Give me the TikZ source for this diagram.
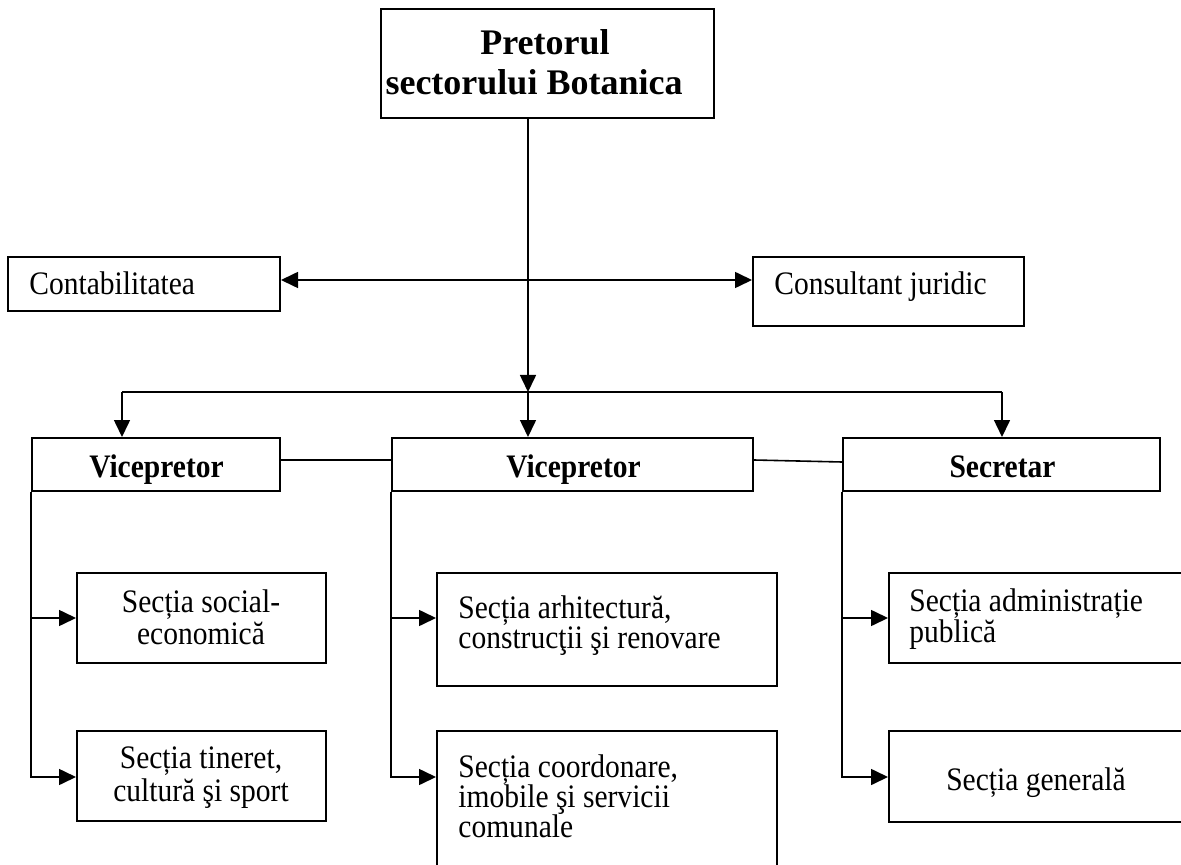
\documentclass[tikz,border=0pt]{standalone}
\usepackage{fontspec}
\setmainfont{Liberation Serif}
\newfontfamily\tallfont[FakeStretch=0.9]{Liberation Serif}
\usetikzlibrary{arrows.meta,fit}
\begin{document}
\begin{tikzpicture}[x=0.5pt,y=-0.5pt,
  box/.style={draw,line width=1pt,inner sep=0pt},
  conn/.style={line width=0.8pt},
  arr/.style={conn,-{Triangle[length=8.5pt,width=8pt]}},
  darr/.style={conn,{Triangle[length=8.5pt,width=8pt]}-{Triangle[length=8.5pt,width=8pt]}},
  txt/.style={inner sep=0pt,font=\tallfont\fontsize{16.4pt}{17pt}\selectfont},
  btxt/.style={inner sep=0pt,font=\tallfont\fontsize{16.4pt}{17pt}\selectfont\bfseries},
  ttxt/.style={inner sep=0pt,font=\fontsize{18pt}{20pt}\selectfont\bfseries}]
\useasboundingbox (0,0) rectangle (1181,865);
\clip (0,0) rectangle (1181,865);
\fill[white] (0,0) rectangle (1181,865);
% boxes
\node[box,fit={(381,9) (714,118)}] (pret) {};
\node[box,fit={(8,257) (280,311)}] (cont) {};
\node[box,fit={(753,257) (1024,326)}] (cons) {};
\node[box,fit={(32,438) (280,491)}] (v1) {};
\node[box,fit={(392,438) (753,491)}] (v2) {};
\node[box,fit={(843,438) (1160,491)}] (sec) {};
\node[box,fit={(77,573) (326,663)}] (se) {};
\node[box,fit={(77,731) (326,821)}] (tin) {};
\node[box,fit={(437,573) (777,686)}] (arh) {};
\node[box,fit={(437,731) (777,900)}] (coo) {};
\node[box,fit={(889,573) (1190,663)}] (adm) {};
\node[box,fit={(889,731) (1190,822)}] (gen) {};
% texts
\node[ttxt,anchor=base] (tp1) at (545,55) {Pretorul};
\node[ttxt,anchor=base] (tp2) at (534,95) {sectorului Botanica};
\node[txt,anchor=base west] (tc) at (29,295) {Contabilitatea};
\node[txt,anchor=base west] (tj) at (774,295) {Consultant juridic};
\node[btxt,anchor=base] (tv1) at (156.5,477) {Vicepretor};
\node[btxt,anchor=base] (tv2) at (573.5,477) {Vicepretor};
\node[btxt,anchor=base] (ts) at (1002.5,477) {Secretar};
\node[txt,anchor=base] (ta1) at (201,612) {Secția social-};
\node[txt,anchor=base] (ta2) at (201,644) {economică};
\node[txt,anchor=base] (tb1) at (201,768) {Secția tineret,};
\node[txt,anchor=base] (tb2) at (201,801) {cultură şi sport};
\node[txt,anchor=base west] (tc1) at (458,618) {Secția arhitectură,};
\node[txt,anchor=base west] (tc2) at (458,648) {construcţii şi renovare};
\node[txt,anchor=base west] (td1) at (458,777) {Secția coordonare,};
\node[txt,anchor=base west] (td2) at (458,807) {imobile şi servicii};
\node[txt,anchor=base west] (td3) at (458,837) {comunale};
\node[txt,anchor=base west] (te1) at (909,611) {Secția administrație};
\node[txt,anchor=base west] (te2) at (909,642) {publică};
\node[txt,anchor=base] (tf) at (1036,790) {Secția generală};
% coordinates
\coordinate (hy) at (528,280);
\coordinate (br) at (528,392);
\coordinate (bl) at (122,392);
\coordinate (brr) at (1002,392);
\coordinate (ly1) at (0,460);
\coordinate (ly2) at (0,462);
\coordinate (a1) at (0,618);
\coordinate (a2) at (0,777);
% connectors
\draw[arr] (br |- pret.south) -- (br);
\draw[darr] (cont.east |- hy) -- (cons.west |- hy);
\draw[conn] (bl) -- (brr);
\draw[arr] (bl) -- (bl |- v1.north);
\draw[arr] (br) -- (br |- v2.north);
\draw[arr] (brr) -- (brr |- sec.north);
\draw[conn] (v1.east |- ly1) -- (v2.west |- ly1);
\draw[conn] (v2.east |- ly1) -- (sec.west |- ly2);
\draw[arr] (v1.south west) |- (tin.west |- a2);
\draw[arr] (v1.south west |- a1) -- (se.west |- a1);
\draw[arr] (v2.south west) |- (coo.west |- a2);
\draw[arr] (v2.south west |- a1) -- (arh.west |- a1);
\draw[arr] (sec.south west) |- (gen.west |- a2);
\draw[arr] (sec.south west |- a1) -- (adm.west |- a1);
\end{tikzpicture}
\end{document}
